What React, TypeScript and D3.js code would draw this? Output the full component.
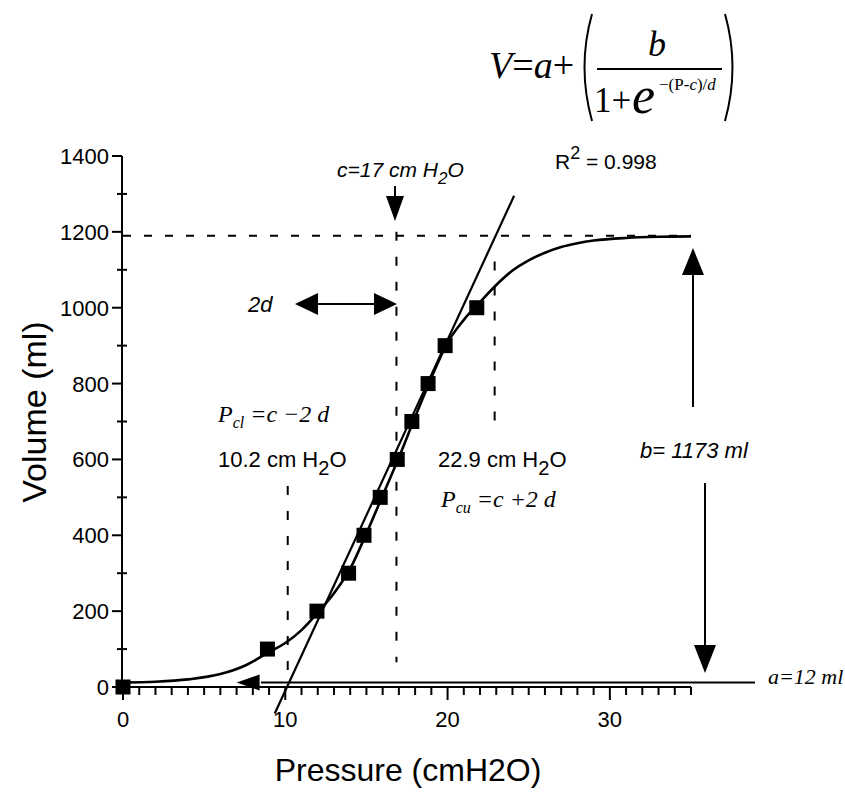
import React from "react";
import * as d3 from "d3";

// Measured data points (pressure cmH2O, volume ml)
const pointPressure = [0, 8.9, 11.95, 13.9, 14.85, 15.85, 16.9, 17.8, 18.8, 19.85, 21.8];
const pointVolume = [0, 100, 200, 300, 400, 500, 600, 700, 800, 900, 1000];

// Fitted sigmoid curve
const curvePressure = [0, 2, 4, 6, 7.6, 9, 10, 11, 12, 13, 14, 15, 16, 17, 18, 19, 20, 21, 22, 23, 24, 25, 26, 27, 28, 29, 31, 33, 35];
const curveVolume = [12, 14, 20, 34, 58, 92, 116, 150, 196, 247, 312, 405, 505, 605, 712, 815, 908, 968, 1015, 1060, 1098, 1125, 1145, 1160, 1170, 1177, 1184, 1187, 1188];

// Tangent line at inflection point
const tangentPressure = [9.35, 24.1];
const tangentVolume = [-70, 1295];

// Parameters
const paramA = 12;
const paramAB = 1190;
const paramC = 16.85;
const paramPcl = 10.15;
const paramPcu = 22.9;

const xTicks = [0, 10, 20, 30];
const yTicks = [0, 200, 400, 600, 800, 1000, 1200, 1400];

const SANS = "'Liberation Sans', Arial, Helvetica, sans-serif";
const SERIF = "'Liberation Serif', 'Times New Roman', serif";

function head(tx: number, ty: number, dir: "up" | "down" | "left" | "right", len: number, half: number) {
  let pts: [number, number][] = [];
  if (dir === "down") pts = [[tx, ty], [tx - half, ty - len], [tx + half, ty - len]];
  if (dir === "up") pts = [[tx, ty], [tx - half, ty + len], [tx + half, ty + len]];
  if (dir === "left") pts = [[tx, ty], [tx + len, ty - half], [tx + len, ty + half]];
  if (dir === "right") pts = [[tx, ty], [tx - len, ty - half], [tx - len, ty + half]];
  return <polygon points={pts.map((p) => p.join(",")).join(" ")} fill="#000" />;
}

export default function App() {
  const x = d3.scaleLinear().domain([0, 35]).range([123, 691]);
  const y = d3.scaleLinear().domain([0, 1400]).range([687, 156]);

  const curve = d3
    .line<number>()
    .x((_, i) => x(curvePressure[i]))
    .y((v) => y(v))
    .curve(d3.curveMonotoneX)(curveVolume) as string;

  const tangent = d3
    .line<number>()
    .x((_, i) => x(tangentPressure[i]))
    .y((v) => y(v))(tangentVolume) as string;

  const minorX = d3.range(0, 36);
  const minorY = d3.range(100, 1400, 200);

  const axisY0 = y(0);

  return (
    <svg width={845} height={792} viewBox="0 0 845 792" style={{ display: "block", position: "absolute", left: 0, top: 0, background: "#fff" }}>
      <rect x={0} y={0} width={845} height={792} fill="#fff" />

      {/* Formula */}
      <g fill="#000">
        <text x={489} y={78} fontFamily={SERIF} fontSize={38}>
          <tspan fontStyle="italic">V</tspan>
          <tspan>=</tspan>
          <tspan fontStyle="italic">a</tspan>
          <tspan>+</tspan>
        </text>
        <path d="M592,14 Q577,67 592,121" stroke="#000" strokeWidth={2} fill="none" />
        <path d="M725,14 Q740,67 725,121" stroke="#000" strokeWidth={2} fill="none" />
        <line x1={597} x2={722} y1={69} y2={69} stroke="#000" strokeWidth={2} />
        <text x={648} y={56} fontFamily={SERIF} fontSize={36} fontStyle="italic">b</text>
        <text x={594} y={112} fontFamily={SERIF} fontSize={35}>1+</text>
        <text x={632} y={113} fontFamily={SERIF} fontSize={52} fontStyle="italic">e</text>
        <text x={659} y={90} fontFamily={SERIF} fontSize={17}>
          <tspan>−(P-</tspan>
          <tspan fontStyle="italic">c</tspan>
          <tspan>)/</tspan>
          <tspan fontStyle="italic">d</tspan>
        </text>
      </g>

      {/* Dashed reference lines */}
      <g stroke="#000" strokeWidth={2} fill="none">
        <line x1={x(0)} x2={x(35)} y1={y(paramAB)} y2={y(paramAB)} strokeDasharray="8 13" />
        <line x1={x(paramC)} x2={x(paramC)} y1={y(paramAB) - 4} y2={y(65)} strokeDasharray="9 16" />
        <line x1={x(paramPcl)} x2={x(paramPcl)} y1={y(530)} y2={y(15)} strokeDasharray="9 16" />
        <line x1={x(paramPcu)} x2={x(paramPcu)} y1={y(1122)} y2={y(680)} strokeDasharray="9 16" />
      </g>

      {/* Axes */}
      <g stroke="#000" strokeWidth={2}>
        <line x1={x(0) - 1} x2={x(0) - 1} y1={y(1400)} y2={axisY0} />
        {yTicks.map((t) => (
          <line key={"yt" + t} x1={x(0) - 11} x2={x(0) - 1} y1={y(t)} y2={y(t)} />
        ))}
        {minorY.map((t) => (
          <line key={"ym" + t} x1={x(0) - 6} x2={x(0) + 4} y1={y(t)} y2={y(t)} />
        ))}
        <line x1={x(0) - 1} x2={x(35)} y1={axisY0} y2={axisY0} />
        {minorX.map((t) => (
          <line key={"xm" + t} x1={x(t)} x2={x(t)} y1={axisY0} y2={axisY0 + (t % 10 === 0 ? 13 : 8)} />
        ))}
      </g>
      <g fontFamily={SANS} fontSize={22} fill="#000">
        {yTicks.map((t) => (
          <text key={"yl" + t} x={x(0) - 14} y={y(t) + 8} textAnchor="end">{t}</text>
        ))}
        {xTicks.map((t) => (
          <text key={"xl" + t} x={x(t)} y={727} textAnchor="middle">{t}</text>
        ))}
      </g>
      <text x={408} y={781} textAnchor="middle" fontFamily={SANS} fontSize={32} fill="#000">Pressure (cmH2O)</text>
      <text transform="translate(46,412) rotate(-90)" textAnchor="middle" fontFamily={SANS} fontSize={34} fill="#000">Volume (ml)</text>

      {/* a line with arrow */}
      <line x1={x(8.5)} x2={755} y1={y(paramA)} y2={y(paramA)} stroke="#000" strokeWidth={2} />
      {head(x(7.0), y(paramA), "left", 23, 8)}

      {/* Tangent and fitted curve */}
      <path d={tangent} stroke="#000" strokeWidth={2.2} fill="none" />
      <path d={curve} stroke="#000" strokeWidth={2.6} fill="none" />

      {/* Data markers */}
      {pointVolume.map((v, i) => (
        <rect key={"m" + i} x={x(pointPressure[i]) - 7.5} y={y(v) - 7.5} width={15} height={15} fill="#000" />
      ))}

      {/* c arrow */}
      <line x1={395} x2={395} y1={186} y2={200} stroke="#000" strokeWidth={2} />
      {head(395, 221, "down", 25, 9)}
      <text x={337} y={177} fontFamily={SANS} fontSize={21} fontStyle="italic" fill="#000">
        c=17 cm H<tspan dy={7} fontSize={17}>2</tspan><tspan dy={-7}>O</tspan>
      </text>
      <text x={555} y={169} fontFamily={SANS} fontSize={21} fill="#000">
        R<tspan dy={-10} fontSize={18}>2</tspan><tspan dy={10}> = 0.998</tspan>
      </text>

      {/* 2d arrow */}
      <line x1={315} x2={378} y1={304} y2={304} stroke="#000" strokeWidth={2} />
      {head(295, 304, "left", 23, 11)}
      {head(397, 304, "right", 23, 11)}
      <text x={248} y={312} fontFamily={SANS} fontSize={22} fontStyle="italic" fill="#000">2d</text>

      {/* Pcl / Pcu labels */}
      <text x={218} y={422} fontFamily={SERIF} fontSize={24} fontStyle="italic" fill="#000">
        P<tspan dy={6} fontSize={16}>cl</tspan><tspan dy={-6}> =c −2 d</tspan>
      </text>
      <text x={218} y={467} fontFamily={SANS} fontSize={22} fill="#000">
        10.2 cm H<tspan dy={8} fontSize={20}>2</tspan><tspan dy={-8}>O</tspan>
      </text>
      <text x={438} y={467} fontFamily={SANS} fontSize={22} fill="#000">
        22.9 cm H<tspan dy={8} fontSize={20}>2</tspan><tspan dy={-8}>O</tspan>
      </text>
      <text x={441} y={507} fontFamily={SERIF} fontSize={24} fontStyle="italic" fill="#000">
        P<tspan dy={6} fontSize={16}>cu</tspan><tspan dy={-6}> =c +2 d</tspan>
      </text>

      {/* b arrows */}
      <line x1={693} x2={693} y1={270} y2={407} stroke="#000" strokeWidth={2} />
      {head(693, 248, "up", 27, 11)}
      <line x1={705} x2={705} y1={483} y2={650} stroke="#000" strokeWidth={2} />
      {head(705, 673, "down", 28, 11)}
      <text x={640} y={458} fontFamily={SANS} fontSize={22} fontStyle="italic" fill="#000">b= 1173 ml</text>
      <text x={768} y={684} fontFamily={SERIF} fontSize={22} fontStyle="italic" fill="#000">a=12 ml</text>
    </svg>
  );
}
